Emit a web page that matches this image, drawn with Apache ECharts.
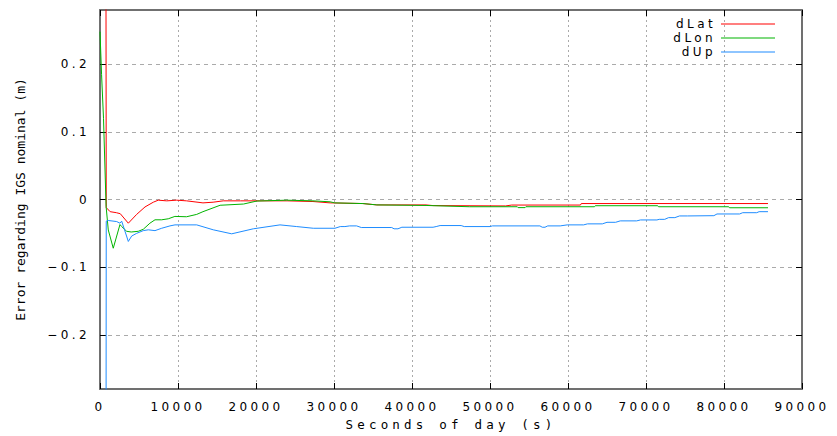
<!DOCTYPE html>
<html>
<head>
<meta charset="utf-8">
<script src="https://cdn.jsdelivr.net/npm/echarts@6/dist/echarts.min.js"></script>
<style>
  html, body { margin: 0; padding: 0; background: #fff; }
  #chart { width: 837px; height: 436px; }
  /* gnuplot style wide lettering */
  #chart text[style*="12px"] { letter-spacing: 3.4px; }
  #chart text[style*="12.5px"] { letter-spacing: 4.2px; }
</style>
</head>
<body>
<div id="chart"></div>
<script>
// tick values of the error axis (m)
var yTicks = [-0.2, -0.1, 0, 0.1, 0.2];

// dLat
var latSec = [740, 800, 1300, 2100, 2600, 3630, 4700, 5770, 6830, 7470, 8550, 9830, 11100, 13200, 14500, 15800,
  18000, 20500, 24000, 27300, 29500, 33700, 35500, 41800, 42700, 52000, 52780, 61600, 61700, 85640];
var latErr = [0.6, -0.012, -0.018, -0.0195, -0.021, -0.035, -0.022, -0.011, -0.004, -0.001, -0.002, -0.001, -0.002, -0.005, -0.004, -0.002,
  -0.002, -0.002, -0.002, -0.003, -0.005, -0.006, -0.008, -0.008, -0.009, -0.0095, -0.0082, -0.0082, -0.006, -0.006];

// dLon
var lonSec = [0, 200, 450, 780, 1060, 1700, 2560, 2780, 3420, 4000, 4900, 5550, 6400, 7050, 7900, 8750, 9600, 11100,
  12400, 13200, 15400, 18400, 20100, 23900, 27300, 29500, 30100, 33700, 35500, 41800, 47400, 53500, 53600, 54500,
  54600, 63400, 63500, 71500, 71600, 80600, 80700, 85640];
var lonErr = [0.248, 0.185, 0.12, -0.01, -0.045, -0.072, -0.037, -0.04, -0.047, -0.048, -0.047, -0.044, -0.035, -0.03, -0.03, -0.0285, -0.025, -0.0255,
  -0.022, -0.018, -0.0085, -0.0067, -0.0023, -0.001, -0.002, -0.0034, -0.005, -0.006, -0.008, -0.0088, -0.0107, -0.0107, -0.012, -0.012,
  -0.0107, -0.0107, -0.0092, -0.0092, -0.0107, -0.0107, -0.0122, -0.0122];

// dUp
var upSec = [740, 800, 1060, 2140, 2560, 2780, 3630, 4060, 4700, 5550, 6190, 7050, 7910, 8970, 9615, 12400, 14525,
  16884, 19653, 23076, 25217, 27345, 30127, 30800, 31400, 32000, 32900, 33500, 37400, 37700, 38200, 38700, 42700,
  43100, 43600, 46300, 46700, 50000, 50300, 56400, 56700, 57050, 57400, 59000, 59900, 62000, 62500, 64400, 65000,
  66100, 66700, 68800, 69300, 71400, 71700, 72400, 72900, 73700, 74300, 75300, 78700, 79100, 82000, 82400, 84200,
  84500, 85640];
var upErr = [-0.9, -0.032, -0.031, -0.0326, -0.035, -0.032, -0.062, -0.054, -0.05, -0.046, -0.0448, -0.046, -0.0425, -0.039, -0.0375, -0.0375, -0.0448,
  -0.0507, -0.0433, -0.0375, -0.04, -0.0425, -0.0425, -0.04, -0.04, -0.039, -0.039, -0.0414, -0.0414, -0.0433, -0.0433, -0.041, -0.041,
  -0.04, -0.0385, -0.0385, -0.04, -0.04, -0.039, -0.039, -0.041, -0.041, -0.039, -0.039, -0.0375, -0.0375, -0.036, -0.036, -0.0337,
  -0.0337, -0.0316, -0.0316, -0.0302, -0.0302, -0.0293, -0.0293, -0.0268, -0.0268, -0.0243, -0.0243, -0.0239, -0.0214, -0.0214, -0.0195, -0.0195,
  -0.018, -0.018];

function pairs(sec, val) {
  var out = [];
  for (var i = 0; i < sec.length; i++) {
    out.push([sec[i], val[i]]);
  }
  return out;
}

var tickFont = { fontFamily: 'DejaVu Sans', fontSize: 12, color: '#000' };
var borderLine = { show: true, onZero: false, lineStyle: { color: '#707070', width: 2 } };
var innerTick = { show: true, inside: true, length: 6, lineStyle: { color: '#000', width: 1 } };

function yLabel(v) {
  if (Math.abs(v) < 1e-9) return '0';
  return v.toFixed(1).replace('-', '\u2212');
}

function lineSeries(name, color, data) {
  return {
    name: name,
    type: 'line',
    data: data,
    showSymbol: false,
    symbol: 'none',
    clip: true,
    lineStyle: { color: color, width: 1 },
    itemStyle: { color: color },
    animation: false
  };
}

var chart = echarts.init(document.getElementById('chart'), null, { renderer: 'svg' });

var option = {
  backgroundColor: '#fff',
  animation: false,
  grid: { left: 100, right: 35, top: 10, bottom: 41 },
  legend: {
    orient: 'vertical',
    right: 57,
    top: 12,
    align: 'right',
    icon: 'rect',
    itemWidth: 54,
    itemHeight: 1,
    itemGap: 0,
    textStyle: { fontFamily: 'DejaVu Sans', fontSize: 12, color: '#000', lineHeight: 14 },
    data: ['dLat', 'dLon', 'dUp']
  },
  xAxis: [{
    type: 'value',
    min: 0,
    max: 90000,
    interval: 10000,
    axisLine: borderLine,
    axisTick: innerTick,
    axisLabel: { margin: 12, fontFamily: tickFont.fontFamily, fontSize: 12, color: '#000', formatter: function (v) { return String(v); } },
    splitLine: { show: true, lineStyle: { color: '#aaaaaa', width: 1, type: [2, 3] } },
    name: 'Seconds of day (s)',
    nameLocation: 'middle',
    nameGap: 29,
    nameTextStyle: { fontFamily: 'DejaVu Sans Mono', fontSize: 12.5, color: '#000' }
  }, {
    type: 'value',
    position: 'top',
    min: 0,
    max: 90000,
    interval: 10000,
    axisLine: borderLine,
    axisTick: innerTick,
    axisLabel: { show: false },
    splitLine: { show: false }
  }],
  yAxis: [{
    type: 'value',
    min: -0.28,
    max: 0.28,
    axisLine: borderLine,
    axisTick: { show: true, inside: true, length: 6, lineStyle: { color: '#000' }, customValues: yTicks },
    axisLabel: { margin: 10, fontFamily: tickFont.fontFamily, fontSize: 12, color: '#000', customValues: yTicks, formatter: yLabel },
    splitLine: { show: true, lineStyle: { color: '#aaaaaa', width: 1, type: [4, 4] } },
    name: 'Error regarding IGS nominal (m)',
    nameLocation: 'middle',
    nameGap: 73,
    nameTextStyle: { fontFamily: 'DejaVu Sans Mono', fontSize: 13, color: '#000' }
  }, {
    type: 'value',
    position: 'right',
    min: -0.28,
    max: 0.28,
    axisLine: borderLine,
    axisTick: { show: true, inside: true, length: 6, lineStyle: { color: '#000' }, customValues: yTicks },
    axisLabel: { show: false },
    splitLine: { show: false }
  }],
  series: [
    lineSeries('dLat', '#ff0000', pairs(latSec, latErr)),
    lineSeries('dLon', '#00b400', pairs(lonSec, lonErr)),
    lineSeries('dUp', '#1e8cff', pairs(upSec, upErr))
  ]
};

chart.setOption(option);
</script>
</body>
</html>
